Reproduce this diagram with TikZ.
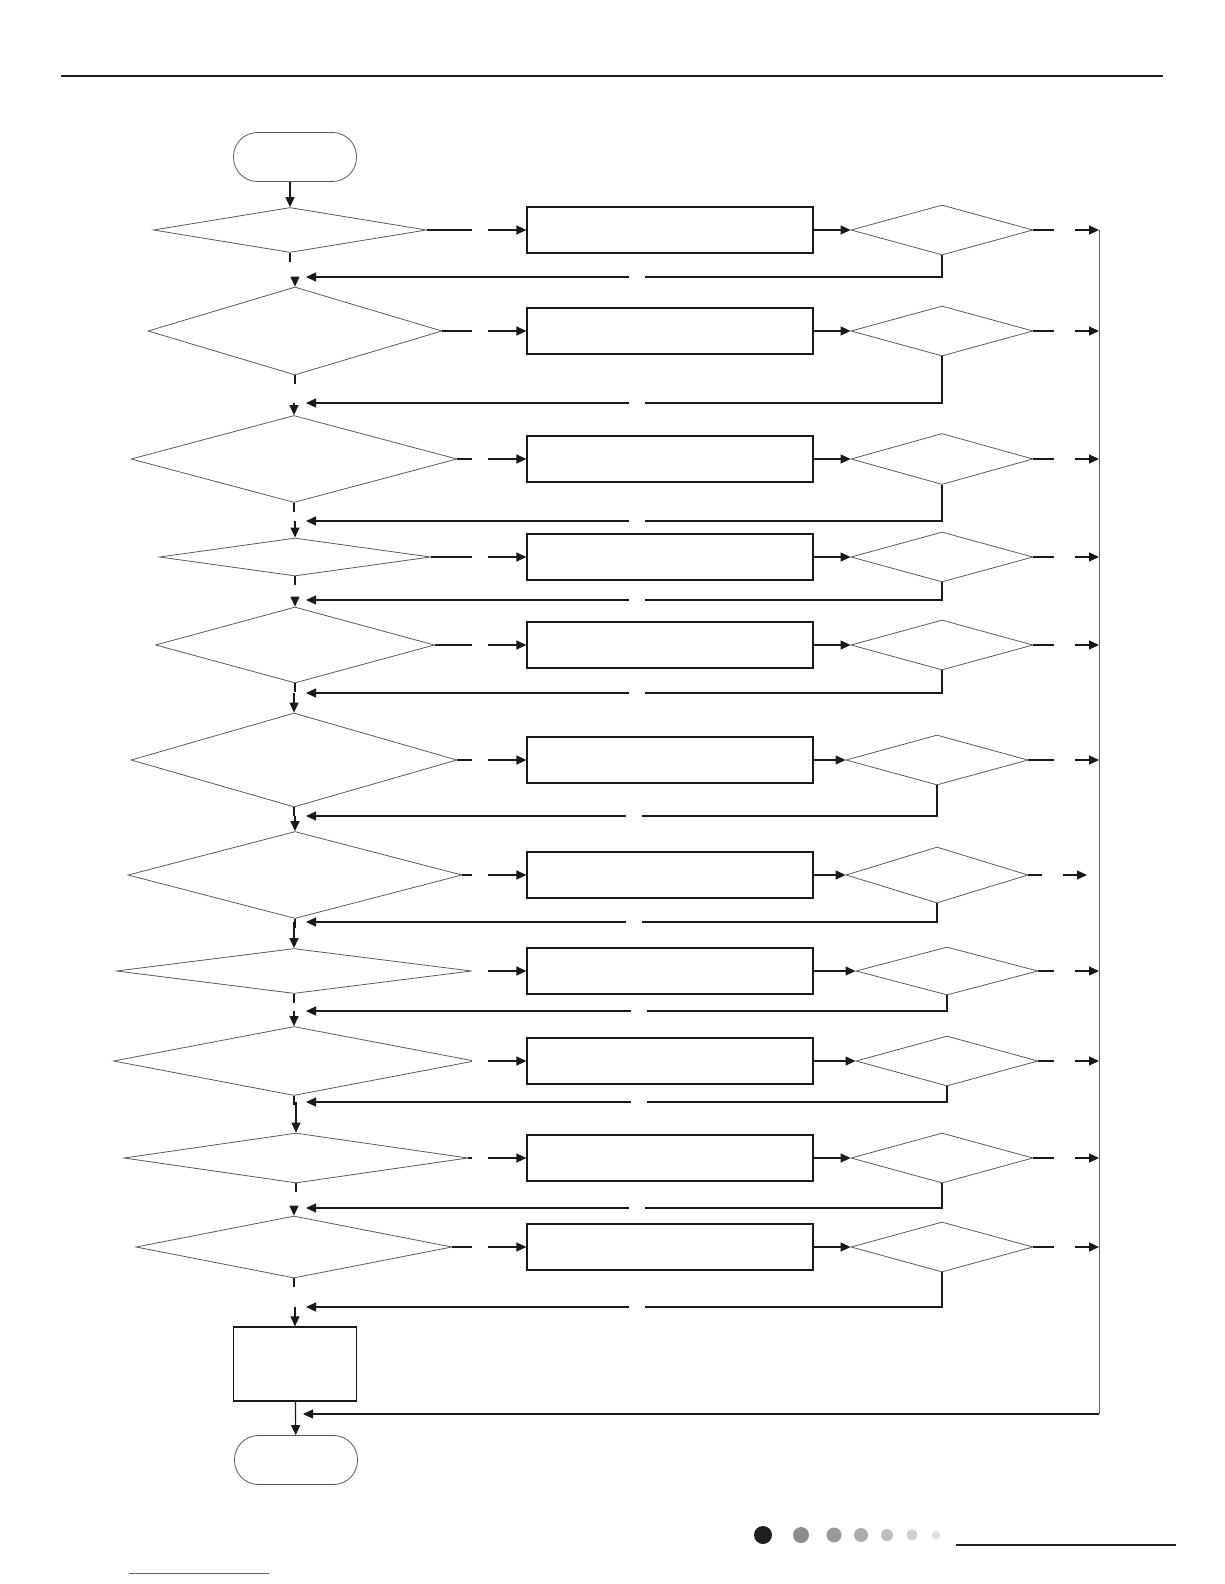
\documentclass[tikz,border=0pt]{standalone}
\usepackage{tikz}
\usetikzlibrary{arrows.meta,positioning,shapes.geometric,calc}
\definecolor{linkblue}{HTML}{3A5FCD}
\tikzset{
  dia/.style  = {diamond, draw=black!65, line width=0.8pt, inner sep=0pt, aspect=1},
  pbox/.style = {rectangle, draw=black!90, line width=1.2pt, inner sep=0pt,
                 minimum width=286pt, minimum height=46pt},
  term/.style = {rectangle, rounded corners=24pt, draw=black!65, line width=0.8pt,
                 inner sep=0pt, minimum width=123pt, minimum height=49pt},
  ln/.style   = {line width=1.2pt, black!90},
  ar/.style   = {ln, -{Triangle[length=10pt, width=9pt]}},
  rail/.style = {line width=0.9pt, black!60},
  gap/.style  = {fill=white, inner sep=0pt, minimum width=16pt, minimum height=6pt},
  gapw/.style = {gap, minimum width=21pt},
}

\begin{document}
\begin{tikzpicture}[x=1pt, y=-1pt]
  \useasboundingbox (0,0) rectangle (1224,1584);
  % header and footer
  \draw[line width=2.6pt, black!88] (61,76) -- (1163,76);
  \fill[black!88] (763,1535) circle (9pt);
  \fill[black!45] (801,1535) circle (8pt);
  \fill[black!40] (834,1535) circle (7.5pt);
  \fill[black!33] (861,1535) circle (7pt);
  \fill[black!26] (887,1535) circle (6pt);
  \fill[black!19] (912,1535) circle (5.5pt);
  \fill[black!12] (936,1535) circle (4.5pt);
  \draw[line width=2.4pt, black!88] (956,1545) -- (1176,1545);
  \draw[line width=0.9pt, linkblue] (129,1573) -- (269,1573);

  \node[term] (start) at (295,157) {};
  % checks, actions and re-checks
  \node[dia, minimum width=273pt, minimum height=45pt] (d1) at (290,230) {};
  \node[pbox] (b1) at (670,230) {};
  \node[dia, minimum width=182pt, minimum height=50pt] (q1) at (942,230) {};
  \node[dia, minimum width=294pt, minimum height=88pt] (d2) at (295,331) {};
  \node[pbox] (b2) at (670,331) {};
  \node[dia, minimum width=182pt, minimum height=50pt] (q2) at (942,331) {};
  \node[dia, minimum width=326pt, minimum height=87pt] (d3) at (294,459) {};
  \node[pbox] (b3) at (670,459) {};
  \node[dia, minimum width=182pt, minimum height=51pt] (q3) at (942,459) {};
  \node[dia, minimum width=271pt, minimum height=38pt] (d4) at (295,557) {};
  \node[pbox] (b4) at (670,557) {};
  \node[dia, minimum width=182pt, minimum height=50pt] (q4) at (942,557) {};
  \node[dia, minimum width=279pt, minimum height=76pt] (d5) at (295,645) {};
  \node[pbox] (b5) at (670,645) {};
  \node[dia, minimum width=182pt, minimum height=50pt] (q5) at (942,645) {};
  \node[dia, minimum width=326pt, minimum height=94pt] (d6) at (294,760) {};
  \node[pbox] (b6) at (670,760) {};
  \node[dia, minimum width=182pt, minimum height=50pt] (q6) at (937,760) {};
  \node[dia, minimum width=334pt, minimum height=87pt] (d7) at (295,875) {};
  \node[pbox] (b7) at (670,875) {};
  \node[dia, minimum width=182pt, minimum height=56pt] (q7) at (937,875) {};
  \node[dia, minimum width=355pt, minimum height=45pt] (d8) at (294,971) {};
  \node[pbox] (b8) at (670,971) {};
  \node[dia, minimum width=182pt, minimum height=48pt] (q8) at (947,971) {};
  \node[dia, minimum width=361pt, minimum height=69pt] (d9) at (294,1061) {};
  \node[pbox] (b9) at (670,1061) {};
  \node[dia, minimum width=182pt, minimum height=50pt] (q9) at (947,1061) {};
  \node[dia, minimum width=344pt, minimum height=50pt] (d10) at (296,1158) {};
  \node[pbox] (b10) at (670,1158) {};
  \node[dia, minimum width=182pt, minimum height=50pt] (q10) at (942,1158) {};
  \node[dia, minimum width=316pt, minimum height=62pt] (d11) at (294,1247) {};
  \node[pbox] (b11) at (670,1247) {};
  \node[dia, minimum width=182pt, minimum height=50pt] (q11) at (942,1247) {};
  \node[pbox, minimum width=123pt, minimum height=74pt] (fix) at (295,1364) {};
  \node[term] (stop) at (296,1460) {};

  \coordinate (railtop) at (1099,230);
  \coordinate (railbot) at (1099,1414);
  \draw[rail] (railtop) -- (railbot);

  \draw[ar] (start.south -| d1.north) -- (d1.north);
  \foreach \i/\j/\ret/\rs in {1/d2/277/0, 2/d3/403/0, 3/d4/521/0, 4/d5/600/0,
      5/d6/693/0, 6/d7/816/0, 7/d8/922/12, 8/d9/1011/0, 9/d10/1102/0,
      10/d11/1208/0, 11/fix/1307/0}{
    \coordinate (c\i) at (294,\ret);
    \coordinate (e\i) at (q\i.east -| railtop);
    \draw[ln] (d\i.south) -- ([yshift=-9pt]d\i.south);
    \draw[ar] (c\i -| \j.north) -- (\j.north);
    \draw[ar] (d\i.east) -- (b\i.west) node[gap, pos=1, xshift=-46pt] {};
    \draw[ar] (b\i) -- (q\i);
    \draw[ar] (q\i.east) -- ([xshift=-\rs pt]e\i) node[gapw, pos=1, xshift=-35pt] {};
    \draw[ar] (q\i.south) |- ([xshift=12pt]c\i) node[gap, pos=0.74] {};
  }
  \coordinate (back) at (fix.south |- railbot);
  \draw[ar] (railbot) -- ([xshift=8pt]back);
  \draw[ar] (fix) -- (stop);
\end{tikzpicture}
\end{document}
